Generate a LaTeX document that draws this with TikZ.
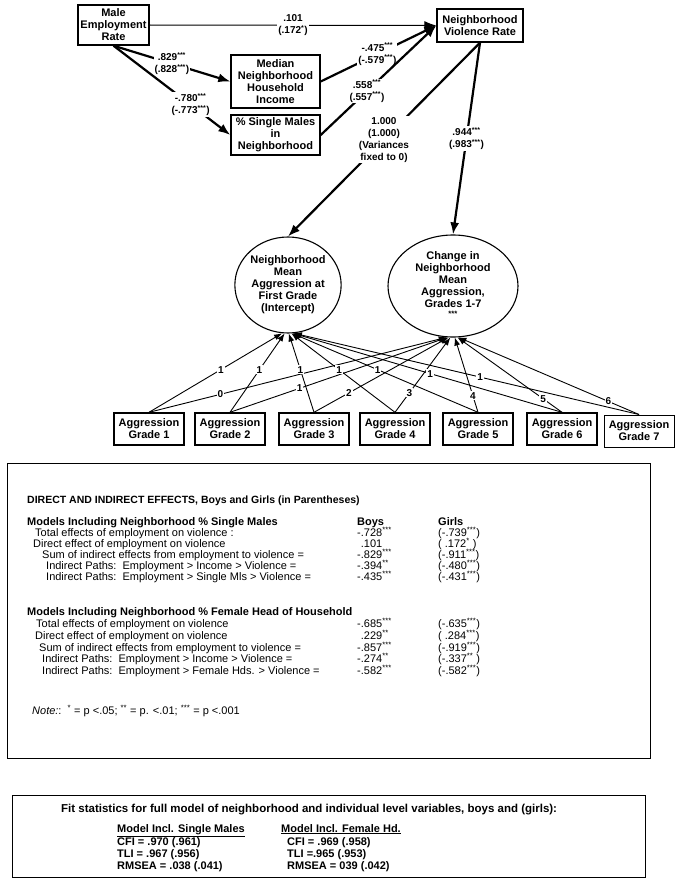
\documentclass[tikz,border=0pt]{standalone}
\usepackage{fontspec}
\setmainfont{Liberation Sans}
\usetikzlibrary{arrows.meta,shapes.geometric}

\newcommand{\signif}[1]{\textsuperscript{#1}}

\tikzset{
  varbox/.style={draw, line width=1.4pt, align=center, inner sep=2pt,
    font=\bfseries\fontsize{11}{12}\selectfont},
  latent/.style={draw, ellipse, line width=1.1pt, align=center, inner sep=0pt,
    font=\bfseries\fontsize{11}{12}\selectfont},
  gradebox/.style={varbox, minimum width=70pt, minimum height=32pt},
  coef/.style={fill=white, inner sep=1pt, align=center,
    font=\bfseries\fontsize{10}{12}\selectfont},
  load/.style={fill=white, inner sep=1pt, font=\bfseries\fontsize{10}{11}\selectfont},
  bigpath/.style={line width=2.2pt, -{Latex[length=12pt,width=9pt]}},
  thinpath/.style={line width=1pt, -{Latex[length=12pt,width=9pt]}},
  loadpath/.style={line width=0.9pt, -{Latex[length=8pt,width=6pt]}},
  tabrow/.style={anchor=base west, inner sep=0pt, font=\fontsize{11}{12}\selectfont},
  tabhead/.style={anchor=base west, inner sep=0pt, font=\bfseries\fontsize{11}{12}\selectfont},
  fitrow/.style={anchor=base west, inner sep=0pt, font=\bfseries\fontsize{11}{12}\selectfont}
}

\begin{document}
\begin{tikzpicture}[x=1pt, y=-1pt]
  \fill[white] (0,0) rectangle (678,883);
  \useasboundingbox (0,0) rectangle (678,883);

  \node[varbox, minimum width=71pt, minimum height=40pt] (emp) at (113.5,25) {Male\\Employment\\Rate};
  \node[varbox, minimum width=86pt, minimum height=33pt] (vio) at (480,25.5) {Neighborhood\\Violence Rate};
  \node[varbox, minimum width=89pt, minimum height=53pt] (inc) at (275.5,81.5) {Median\\Neighborhood\\Household\\Income};
  \node[varbox, minimum width=89pt, minimum height=40pt] (sgl) at (275.5,135) {\% Single Males\\in\\Neighborhood};

  \node[latent, minimum width=106pt, minimum height=96pt] (int) at (288,285)
    {Neighborhood\\Mean\\Aggression at\\First Grade\\(Intercept)};
  \node[latent, minimum width=130pt, minimum height=102pt] (chg) at (453,286)
    {Change in\\Neighborhood\\Mean\\Aggression,\\Grades 1-7\\\signif{***}};

  \draw[thinpath] (emp.east) -- node[coef] {.101\\(.172\signif{*})} (vio.west);
  \draw[bigpath] (emp.south) -- node[coef, pos=.5] {.829\signif{***}\\(.828\signif{***})} (inc.west);
  \draw[bigpath] (emp.south) -- node[coef, pos=.66] {-.780\signif{***}\\(-.773\signif{***})} (sgl.west);
  \draw[bigpath] (inc.east) -- node[coef, pos=.49] {-.475\signif{***}\\(-.579\signif{***})} (vio.west);
  \draw[bigpath] (sgl.east) -- node[coef, pos=.4] {.558\signif{***}\\(.557\signif{***})} (vio.west);
  \draw[bigpath] (vio.south) -- node[coef, pos=.5] {1.000\\(1.000)\\(Variances\\fixed to 0)} (int.north);
  \draw[bigpath] (vio.south) -- node[coef, pos=.5] {.944\signif{***}\\(.983\signif{***})} (chg.north);

  \foreach \g/\x in {1/149,2/230,3/314,4/395,5/478,6/562}
    \node[gradebox] (g\g) at (\x,429) {Aggression\\Grade \g};
  \node[gradebox, line width=1pt] (g7) at (639,431) {Aggression\\Grade 7};

  \foreach \g/\a/\p/\b/\q/\t in {1/-97/.54/-97/.24/0, 2/-94/.54/-96/.32/1, 3/-89/.54/-95/.26/2,
      4/-86/.54/-93/.26/3, 5/-85/.54/-88/.22/4, 6/-84/.49/-85/.18/5, 7/-83/.46/-84/.17/6} {
    \draw[loadpath] (g\g.north) -- node[load, pos=\p] {1} (int.\a);
    \draw[loadpath] (g\g.north) -- node[load, pos=\q] {\t} (chg.\b);
  }

  \node[draw, line width=1pt, minimum width=643pt, minimum height=295pt, inner sep=0pt] (tbl) at (328.5,610.5) {};
  \node[tabhead, font=\bfseries\fontsize{10.5}{12}\selectfont] (ttl) at (27,503)
    {DIRECT AND INDIRECT EFFECTS, Boys and Girls (in Parentheses)};
  \node[tabhead] (grp1) at (27,525) {Models Including Neighborhood \% Single Males};
  \node[tabhead] (boys) at (357,525) {Boys};
  \node[tabhead] (girls) at (438,525) {Girls};
  \foreach \y/\x/\txt/\by/\gi in {
      536/35/{Total effects of employment on violence :}/{-.728\signif{***}}/{(-.739\signif{***})},
      547/33/{Direct effect of employment on violence}/{\phantom{-}.101}/{( .172\signif{*} )},
      558/42/{Sum of indirect effects from employment to violence =}/{-.829\signif{***}}/{(-.911\signif{***})},
      569/46/{Indirect Paths:\ \ Employment > Income > Violence =}/{-.394\signif{**}}/{(-.480\signif{***})},
      580/46/{Indirect Paths:\ \ Employment > Single Mls > Violence =}/{-.435\signif{***}}/{(-.431\signif{***})}} {
    \node[tabrow] at (\x,\y) {\txt};
    \node[tabrow] at (357,\y) {\by};
    \node[tabrow] at (438,\y) {\gi};
  }
  \node[tabhead] (grp2) at (27,615) {Models Including Neighborhood \% Female Head of Household};
  \foreach \y/\x/\txt/\by/\gi in {
      627/36/{Total effects of employment on violence}/{-.685\signif{***}}/{(-.635\signif{***})},
      639/35/{Direct effect of employment on violence}/{\phantom{-}.229\signif{**}}/{( .284\signif{***})},
      651/39/{Sum of indirect effects from employment to violence =}/{-.857\signif{***}}/{(-.919\signif{***})},
      662/42/{Indirect Paths:\ \ Employment > Income > Violence =}/{-.274\signif{**}}/{(-.337\signif{**} )},
      674/42/{Indirect Paths:\ \ Employment > Female Hds. > Violence =}/{-.582\signif{***}}/{(-.582\signif{***})}} {
    \node[tabrow] at (\x,\y) {\txt};
    \node[tabrow] at (357,\y) {\by};
    \node[tabrow] at (438,\y) {\gi};
  }
  \node[tabrow] (note) at (32,714) {\textit{Note:}:\ \ \signif{*} = p <.05; \signif{**} = p. <.01; \signif{***} = p <.001};

  \node[draw, line width=1pt, minimum width=633pt, minimum height=82pt, inner sep=0pt] (fit) at (328.5,836) {};
  \node[fitrow, font=\bfseries\fontsize{11.5}{12}\selectfont] (fttl) at (61,812)
    {Fit statistics for full model of neighborhood and individual level variables, boys and (girls):};
  \node[fitrow] (fsm) at (117,832) {\underline{Model Incl. Single Males}};
  \node[fitrow] at (117,845) {CFI = .970 (.961)};
  \node[fitrow] at (117,857) {TLI = .967 (.956)};
  \node[fitrow] at (117,869) {RMSEA = .038 (.041)};
  \node[fitrow] (ffh) at (281,832) {\underline{Model Incl. Female Hd.}};
  \node[fitrow] at (287,845) {CFI = .969 (.958)};
  \node[fitrow] at (287,857) {TLI =.965 (.953)};
  \node[fitrow] at (287,869) {RMSEA = 039 (.042)};
\end{tikzpicture}
\end{document}
